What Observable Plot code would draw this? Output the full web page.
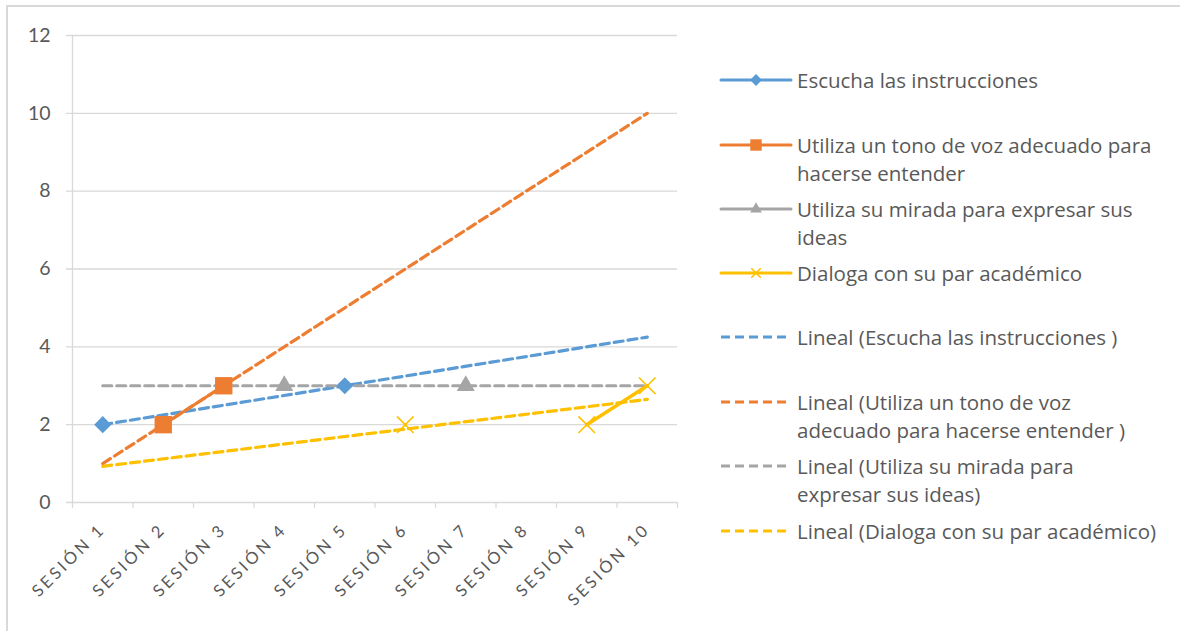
<!DOCTYPE html>
<html>
<head>
<meta charset="utf-8">
<script src="https://cdn.jsdelivr.net/npm/d3@7"></script>
<script src="https://cdn.jsdelivr.net/npm/@observablehq/plot@0.6"></script>
<style>
  html, body { margin: 0; padding: 0; background: #fff; }
  #wrap { position: relative; width: 1180px; height: 631px; overflow: hidden; background: #fff; font-family: Lato, "Open Sans", sans-serif; }
  #frame { position: absolute; left: 6px; top: 5px; width: 1400px; height: 900px; border: 2px solid #d9d9d9; box-sizing: border-box; }
  #chart { position: absolute; left: 0; top: 0; }
  .leg { position: absolute; left: 0; top: 0; }
  .leg svg { position: absolute; left: 718px; }
  .leg .t { position: absolute; left: 797px; font-family: "Open Sans", sans-serif; font-size: 20.5px; line-height: 28.5px; color: #595959; white-space: nowrap; }
</style>
</head>
<body>
<div id="wrap">
  <div id="frame"></div>
  <div id="chart"></div>
  <div id="legend" class="leg"></div>
</div>
<script>
// ---- data ----
const sesiones = ["SESIÓN 1","SESIÓN 2","SESIÓN 3","SESIÓN 4","SESIÓN 5","SESIÓN 6","SESIÓN 7","SESIÓN 8","SESIÓN 9","SESIÓN 10"];
const escucha  = [2, null, null, null, 3, null, null, null, null, null];
const tono     = [null, 2, 3, null, null, null, null, null, null, null];
const mirada   = [null, null, null, 3, null, null, 3, null, null, null];
const dialoga  = [null, null, null, null, null, 2, null, null, 2, 3];
// linear trend lines (Excel "Lineal"), values read at SESIÓN 1 and SESIÓN 10
const trendEscucha = [2, 4.25];
const trendTono    = [1, 10];
const trendMirada  = [3, 3];
const trendDialoga = [0.93, 2.65];
const yTicks = [0, 2, 4, 6, 8, 10, 12];

const colors = ["#5B9BD5", "#ED7D31", "#A5A5A5", "#FFC000"];

// ---- build tables ----
const toRows = arr => arr.map((v, i) => ({x: i + 1, y: v == null ? NaN : v}));
const pts = arr => arr.map((v, i) => ({x: i + 1, y: v})).filter(d => d.y != null);
const trendRows = t => [{x: 1, y: t[0]}, {x: sesiones.length, y: t[1]}];
const edges = d3.range(0, sesiones.length + 1).map(i => i + 0.5);
const labels = sesiones.map((s, i) => ({x: i + 1, s}));

const grid = "#d9d9d9";
const dash = {strokeWidth: 3.2, strokeDasharray: "9,5"};

const chart = Plot.plot({
  width: 1180,
  height: 631,
  marginLeft: 72,
  marginRight: 503,
  marginTop: 35,
  marginBottom: 129,
  style: {fontFamily: "Lato, 'Open Sans', sans-serif", background: "transparent", overflow: "visible"},
  x: {domain: [0.5, sesiones.length + 0.5], axis: null},
  y: {domain: [0, 12], axis: null},
  marks: [
    Plot.ruleY(yTicks, {x1: 0.4, x2: sesiones.length + 0.5, stroke: grid, strokeWidth: 1.3}),
    Plot.ruleX([0.5], {y1: 0, y2: 12, stroke: grid, strokeWidth: 1.3}),
    Plot.ruleX(edges, {y1: 0, y2: -0.15, stroke: grid, strokeWidth: 1.3}),
    Plot.text(yTicks, {x: 0.5, y: d => d, dx: -22, textAnchor: "end", fontSize: 19.5, fill: "#595959"}),
    Plot.text(labels, {x: "x", y: 0, text: "s", rotate: -45, textAnchor: "end", lineAnchor: "middle", dx: 0, dy: 24, fontSize: 16.5, fill: "#595959"}),
    Plot.line(trendRows(trendEscucha), {x: "x", y: "y", stroke: colors[0], ...dash}),
    Plot.line(trendRows(trendTono),    {x: "x", y: "y", stroke: colors[1], ...dash}),
    Plot.line(trendRows(trendMirada),  {x: "x", y: "y", stroke: colors[2], ...dash}),
    Plot.line(trendRows(trendDialoga), {x: "x", y: "y", stroke: colors[3], ...dash}),
    Plot.line(toRows(escucha), {x: "x", y: "y", stroke: colors[0], strokeWidth: 3}),
    Plot.line(toRows(tono),    {x: "x", y: "y", stroke: colors[1], strokeWidth: 3}),
    Plot.line(toRows(mirada),  {x: "x", y: "y", stroke: colors[2], strokeWidth: 3}),
    Plot.line(toRows(dialoga), {x: "x", y: "y", stroke: colors[3], strokeWidth: 3.5}),
    Plot.dot(pts(escucha), {x: "x", y: "y", symbol: d3.symbolDiamond2, r: 7.7, fill: colors[0], stroke: "none"}),
    Plot.dot(pts(tono),    {x: "x", y: "y", symbol: d3.symbolSquare, r: 9.8, fill: colors[1], stroke: "none"}),
    Plot.dot(pts(mirada),  {x: "x", y: "y", symbol: d3.symbolTriangle, r: 6.7, fill: colors[2], stroke: "none"}),
    Plot.dot(pts(dialoga), {x: "x", y: "y", symbol: d3.symbolTimes, r: 7.6, fill: "none", stroke: colors[3], strokeWidth: 1.6})
  ]
});
document.getElementById("chart").appendChild(chart);
// letter-spaced category labels, as in the reference
chart.querySelectorAll("text").forEach(t => {
  if (sesiones.includes(t.textContent)) t.style.letterSpacing = "3px";
});

// ---- legend ----
const legendItems = [
  {lines: ["Escucha las instrucciones"], c: colors[0], sym: d3.symbolDiamond2, size: 90, fill: true, y: 80},
  {lines: ["Utiliza un tono de voz adecuado para", "hacerse entender"], c: colors[1], sym: d3.symbolSquare, size: 130, fill: true, y: 145},
  {lines: ["Utiliza su mirada para expresar sus", "ideas"], c: colors[2], sym: d3.symbolTriangle, size: 60, fill: true, y: 209},
  {lines: ["Dialoga con su par académico"], c: colors[3], sym: d3.symbolTimes, size: 60, fill: false, y: 273},
  {lines: ["Lineal (Escucha las instrucciones )"], c: colors[0], dashed: true, y: 337},
  {lines: ["Lineal (Utiliza un tono de voz", "adecuado para hacerse entender )"], c: colors[1], dashed: true, y: 402},
  {lines: ["Lineal (Utiliza su mirada para", "expresar sus ideas)"], c: colors[2], dashed: true, y: 466},
  {lines: ["Lineal (Dialoga con su par académico)"], c: colors[3], dashed: true, y: 531}
];
const leg = d3.select("#legend");
for (const it of legendItems) {
  const svg = leg.append("svg").attr("width", 76).attr("height", 20).style("top", (it.y - 10) + "px");
  svg.append("line").attr("x1", 3).attr("x2", 73).attr("y1", 10).attr("y2", 10)
    .attr("stroke", it.c).attr("stroke-width", 3)
    .attr("stroke-linecap", it.dashed ? "butt" : "round")
    .attr("stroke-dasharray", it.dashed ? "9,5" : null);
  if (it.sym) {
    svg.append("path").attr("transform", "translate(38,10)")
      .attr("d", d3.symbol(it.sym, it.size)())
      .attr("fill", it.fill ? it.c : "none")
      .attr("stroke", it.fill ? "none" : it.c)
      .attr("stroke-width", 1.6);
  }
  leg.append("div").attr("class", "t").style("top", (it.y - 14.25) + "px")
    .html(it.lines.join("<br>"));
}
</script>
</body>
</html>
